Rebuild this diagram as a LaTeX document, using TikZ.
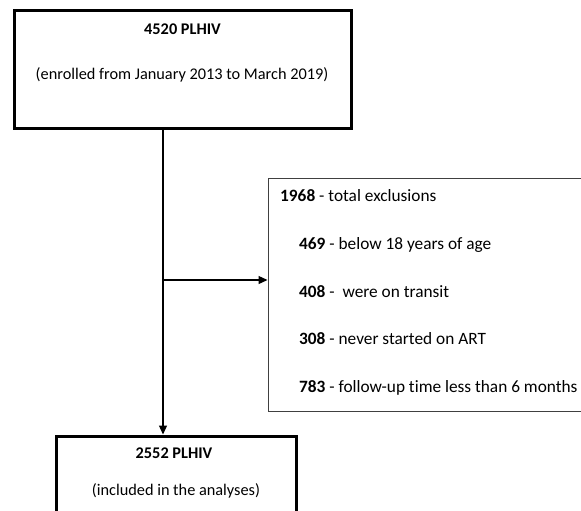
\documentclass[tikz,border=0pt]{standalone}
\usepackage{fontspec}
\setmainfont{Carlito}[RawFeature=-liga]
\usetikzlibrary{arrows.meta}
\tikzset{
  thickbox/.style={draw=black, line width=3pt, rectangle, inner sep=0pt},
  thinbox/.style={draw=black!75, line width=1pt, rectangle, inner sep=0pt},
  txt/.style={inner sep=0pt, font=\fontsize{16.3}{19}\selectfont},
  etxt/.style={inner sep=0pt, font=\fontsize{17.3}{20}\selectfont},
  arr/.style={draw=black, line width=1.3pt, -{Triangle[length=9pt,width=8pt]}}
}
\begin{document}
\begin{tikzpicture}[x=1pt,y=-1pt]
\useasboundingbox (0,0) rectangle (581,511);
\clip (0,0) rectangle (581,511);
\fill[white] (0,0) rectangle (581,511);
% boxes
\node[thickbox, minimum width=337pt, minimum height=118pt] (top) at (183,69.5) {};
\node[thinbox, minimum width=332pt, minimum height=233.5pt] (excl) at (434,294.75) {};
\node[thickbox, minimum width=240.5pt, minimum height=110pt] (bot) at (176.25,491) {};
% texts
\node[txt, anchor=base] (t1) at (182.5,35) {\textbf{4520 PLHIV}};
\node[txt, anchor=base] (t2) at (182,80) {(enrolled from January 2013 to March 2019)};
\node[etxt, anchor=base west] (e0) at (280,201.5) {\textbf{1968} - total exclusions};
\node[etxt, anchor=base west] (e1) at (299,249.3) {\textbf{469} - below 18 years of age};
\node[etxt, anchor=base west] (e2) at (299,297) {\textbf{408} -~ were on transit};
\node[etxt, anchor=base west] (e3) at (299,344.7) {\textbf{308} - never started on ART};
\node[etxt, anchor=base west] (e4) at (299,392.4) {\textbf{783} - follow-up time less than 6 months};
\node[txt, anchor=base] (b1) at (174,458) {\textbf{2552 PLHIV}};
\node[txt, anchor=base] (b2) at (176,495) {(included in the analyses)};
% connectors
\coordinate (split) at (163,280);
\draw[arr] (top.south -| split) -- (bot.north -| split);
\draw[arr] (split) -- (excl.west |- split);
\end{tikzpicture}
\end{document}
